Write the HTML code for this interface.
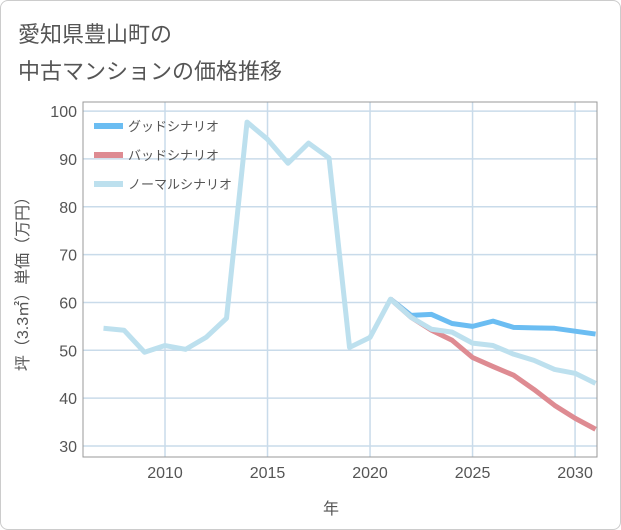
<!DOCTYPE html>
<html><head><meta charset="utf-8"><style>
body{margin:0;background:#fff;font-family:"Liberation Sans","Noto Sans CJK JP",sans-serif;}
.card{position:absolute;left:0;top:0;width:619px;height:528px;border:1px solid #ccc;border-radius:8px;}
.title{position:absolute;left:18px;top:16px;font-size:22px;line-height:37px;color:#555;}
</style></head><body>
<div class="card"></div>
<div class="title">愛知県豊山町の<br>中古マンションの価格推移</div>
<svg id="c" width="621" height="530" style="position:absolute;left:0;top:0"></svg>
<script>
const years=[2007,2008,2009,2010,2011,2012,2013,2014,2015,2016,2017,2018,2019,2020,2021,2022,2023,2024,2025,2026,2027,2028,2029,2030,2031];
const normalVals=[54.6,54.2,49.6,51,50.2,52.7,56.7,97.7,94.1,89.1,93.3,90.2,50.6,52.7,60.7,56.9,54.4,53.8,51.5,51,49.2,47.9,46,45.2,43.1];
const futureYears=[2021,2022,2023,2024,2025,2026,2027,2028,2029,2030,2031];
const goodVals=[60.7,57.3,57.5,55.6,55,56.1,54.8,54.7,54.6,54,53.4];
const badVals=[60.7,56.9,54.2,52.1,48.5,46.6,44.8,41.8,38.5,35.8,33.5];
const xTicks=[2010,2015,2020,2025,2030];
const yTicks=[30,40,50,60,70,80,90,100];
const L=83,R=597,T=102,B=457,X0=2006,X1=2031.07,Y0=27.7,Y1=101.9;
const sx=v=>L+(v-X0)/(X1-X0)*(R-L), sy=v=>B-(v-Y0)/(Y1-Y0)*(B-T);
const svg=document.getElementById('c'),NS='http://www.w3.org/2000/svg';
function mk(t,a,p){const e=document.createElementNS(NS,t);for(const k in a)e.setAttribute(k,a[k]);(p||svg).appendChild(e);return e;}
xTicks.forEach(v=>{const l=mk('line',{x1:sx(v),x2:sx(v),y1:T,y2:B,stroke:'#c9dbea','stroke-width':1.5});


const t=mk('text',{x:sx(v),y:478,'text-anchor':'middle','font-size':16,fill:'#555'});t.textContent=v;

});
yTicks.forEach(v=>{const l=mk('line',{x1:L,x2:R,y1:sy(v),y2:sy(v),stroke:'#c9dbea','stroke-width':1.5});


const t=mk('text',{x:77,y:sy(v)+6,'text-anchor':'end','font-size':16,fill:'#555'});t.textContent=v;

});
const ax=mk('rect',{x:L,y:T,width:R-L,height:B-T,fill:'none',stroke:'#999','stroke-width':1});


function line(xs,vs,c,name){const p=mk('polyline',{points:xs.map((x,i)=>sx(x)+','+sy(vs[i])).join(' '),fill:'none',stroke:c,'stroke-width':5,'stroke-linejoin':'round'});

}
line(futureYears,goodVals,'#6bbdf2','good-scenario-line');
line(futureYears,badVals,'#de8b92','bad-scenario-line');
line(years,normalVals,'#bde0ee','normal-scenario-line');
[['グッドシナリオ','#6bbdf2'],['バッドシナリオ','#de8b92'],['ノーマルシナリオ','#bde0ee']].forEach((d,i)=>{const y=126+i*29;
const g=mk('g',{});


mk('line',{x1:94,x2:123,y1:y,y2:y,stroke:d[1],'stroke-width':6},g);
const t=mk('text',{x:128,y:y+5,'font-size':13,fill:'#555'},g);t.textContent=d[0];});
const yt=mk('text',{x:0,y:0,transform:'translate(28,280) rotate(-90)','text-anchor':'middle','font-size':16,fill:'#555'});
yt.textContent='坪（3.3㎡）単価（万円）';


const xt=mk('text',{x:331,y:514,'text-anchor':'middle','font-size':16,fill:'#555'});
xt.textContent='年';


</script></body></html>
